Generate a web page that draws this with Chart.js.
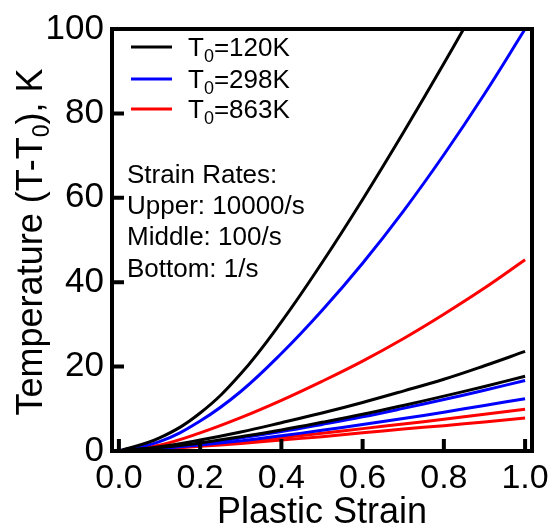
<!DOCTYPE html>
<html>
<head>
<meta charset="utf-8">
<script src="https://cdn.jsdelivr.net/npm/chart.js@4/dist/chart.umd.min.js"></script>
<style>
  html, body { margin: 0; padding: 0; background: #fff; }
</style>
</head>
<body>
<canvas id="chart" width="556" height="527"></canvas>
<script>
// plastic strain (x)
const strain = [0, 0.1, 0.2, 0.3, 0.4, 0.5, 0.6, 0.7, 0.8, 0.9, 1.0];

// temperature rise (T - T0), K
// T0 = 120K
const black10000 = [0, 3.1, 9.0, 18.3, 30.6, 44.6, 59.6, 75.4, 91.8, 108.8, 126.3];
const black100 = [0, 1.0, 2.6, 4.5, 6.7, 9.0, 11.5, 14.2, 17.0, 20.2, 23.6];
const black1 = [0, 0.8, 1.9, 3.4, 5.0, 6.8, 8.7, 10.8, 13.0, 15.3, 17.7];
// T0 = 298K
const blue10000 = [0, 2.2, 7.1, 14.1, 23.1, 33.3, 44.5, 56.8, 70.2, 84.6, 100];
const blue100 = [0, 0.7, 1.7, 3.1, 4.6, 6.3, 8.1, 10.1, 12.2, 14.4, 16.7];
const blue1 = [0, 0.6, 1.4, 2.4, 3.6, 4.9, 6.3, 7.7, 9.2, 10.8, 12.4];
// T0 = 863K
const red10000 = [0, 1.4, 4.3, 7.9, 12.0, 16.5, 21.3, 26.6, 32.4, 38.6, 45.3];
const red100 = [0, 0.6, 1.3, 2.2, 3.2, 4.2, 5.3, 6.4, 7.5, 8.7, 9.9];
const red1 = [0, 0.5, 1.1, 1.8, 2.6, 3.4, 4.3, 5.2, 6.0, 6.9, 7.8];

const xTicks = [0, 0.2, 0.4, 0.6, 0.8, 1.0];
const yTicks = [0, 20, 40, 60, 80, 100];

const legendTemps = ['120K', '298K', '863K'];
const legendColors = ['#000000', '#0000ff', '#ff0000'];
const rateNotes = ['Strain Rates:', 'Upper: 10000/s', 'Middle: 100/s', 'Bottom: 1/s'];

const FONT = '"Liberation Sans", Arial, sans-serif';

const pts = ys => ys.map((y, i) => ({ x: strain[i], y: y }));
const line = (ys, color) => ({
  data: pts(ys),
  borderColor: color,
  borderWidth: 3,
  pointRadius: 0,
  fill: false,
  tension: 0.4
});

// frame, inward ticks, legend, notes and y title
const decor = {
  id: 'decor',
  afterDraw(chart) {
    const ctx = chart.ctx;
    const a = chart.chartArea;
    const xs = chart.scales.x, ys = chart.scales.y;
    ctx.save();
    ctx.strokeStyle = '#000';
    ctx.lineWidth = 4;
    ctx.lineCap = 'butt';
    ctx.beginPath();
    yTicks.forEach(v => {
      const py = ys.getPixelForValue(v);
      ctx.moveTo(a.left, py);
      ctx.lineTo(a.left + 12, py);
    });
    xTicks.forEach(v => {
      const px = xs.getPixelForValue(v);
      ctx.moveTo(px, a.bottom);
      ctx.lineTo(px, a.bottom - 12);
    });
    ctx.stroke();
    ctx.strokeRect(a.left, a.top, a.right - a.left, a.bottom - a.top);

    // legend
    const rows = [47, 79, 109];
    legendTemps.forEach((t, i) => {
      const y = rows[i];
      ctx.strokeStyle = legendColors[i];
      ctx.lineWidth = 3;
      ctx.beginPath();
      ctx.moveTo(131, y);
      ctx.lineTo(172, y);
      ctx.stroke();
      ctx.fillStyle = '#000';
      ctx.textBaseline = 'alphabetic';
      ctx.textAlign = 'left';
      let x = 188;
      ctx.font = '26px ' + FONT;
      ctx.fillText('T', x, y + 8.5);
      x += ctx.measureText('T').width;
      ctx.font = '18px ' + FONT;
      ctx.fillText('0', x, y + 14.5);
      x += ctx.measureText('0').width;
      ctx.font = '26px ' + FONT;
      ctx.fillText('=' + t, x, y + 8.5);
    });

    // strain rate notes
    ctx.font = '26px ' + FONT;
    ctx.fillStyle = '#000';
    const base = [183, 214, 245, 277];
    rateNotes.forEach((s, i) => ctx.fillText(s, 127, base[i]));

    // y axis title with subscript
    const parts = [
      { t: 'Temperature (T-T', f: 36, dy: 0 },
      { t: '0', f: 23, dy: 7 },
      { t: '), K', f: 36, dy: 0 }
    ];
    let total = 0;
    parts.forEach(p => { ctx.font = p.f + 'px ' + FONT; p.w = ctx.measureText(p.t).width; total += p.w; });
    ctx.translate(42, 242);
    ctx.rotate(-Math.PI / 2);
    let x = -total / 2;
    parts.forEach(p => {
      ctx.font = p.f + 'px ' + FONT;
      ctx.fillText(p.t, x, p.dy);
      x += p.w;
    });
    ctx.restore();
  }
};

new Chart(document.getElementById('chart'), {
  type: 'line',
  data: {
    datasets: [
      line(black10000, '#000000'),
      line(black100, '#000000'),
      line(black1, '#000000'),
      line(blue10000, '#0000ff'),
      line(blue100, '#0000ff'),
      line(blue1, '#0000ff'),
      line(red10000, '#ff0000'),
      line(red100, '#ff0000'),
      line(red1, '#ff0000')
    ]
  },
  options: {
    responsive: false,
    animation: false,
    layout: { autoPadding: false, padding: { top: 21, right: 17, left: 0, bottom: 0 } },
    plugins: { legend: { display: false }, tooltip: { enabled: false } },
    scales: {
      x: {
        type: 'linear',
        min: -0.017,
        max: 1.017,
        afterBuildTicks: s => { s.ticks = xTicks.map(v => ({ value: v })); },
        afterFit: s => { s.height = 76; },
        grid: { display: false, drawTicks: false },
        border: { display: false },
        ticks: {
          color: '#000',
          font: { family: FONT, size: 34 },
          padding: 7,
          maxRotation: 0,
          callback: v => v.toFixed(1)
        },
        title: {
          display: true,
          text: 'Plastic Strain',
          color: '#000',
          font: { family: FONT, size: 36, lineHeight: 1 },
          padding: { top: 0, bottom: -4 }
        }
      },
      y: {
        min: 0,
        max: 100,
        afterBuildTicks: s => { s.ticks = yTicks.map(v => ({ value: v })); },
        afterFit: s => { s.width = 112; },
        grid: { display: false, drawTicks: false },
        border: { display: false },
        ticks: {
          color: '#000',
          font: { family: FONT, size: 35 },
          padding: 8
        }
      }
    }
  },
  plugins: [decor]
});
</script>
</body>
</html>
